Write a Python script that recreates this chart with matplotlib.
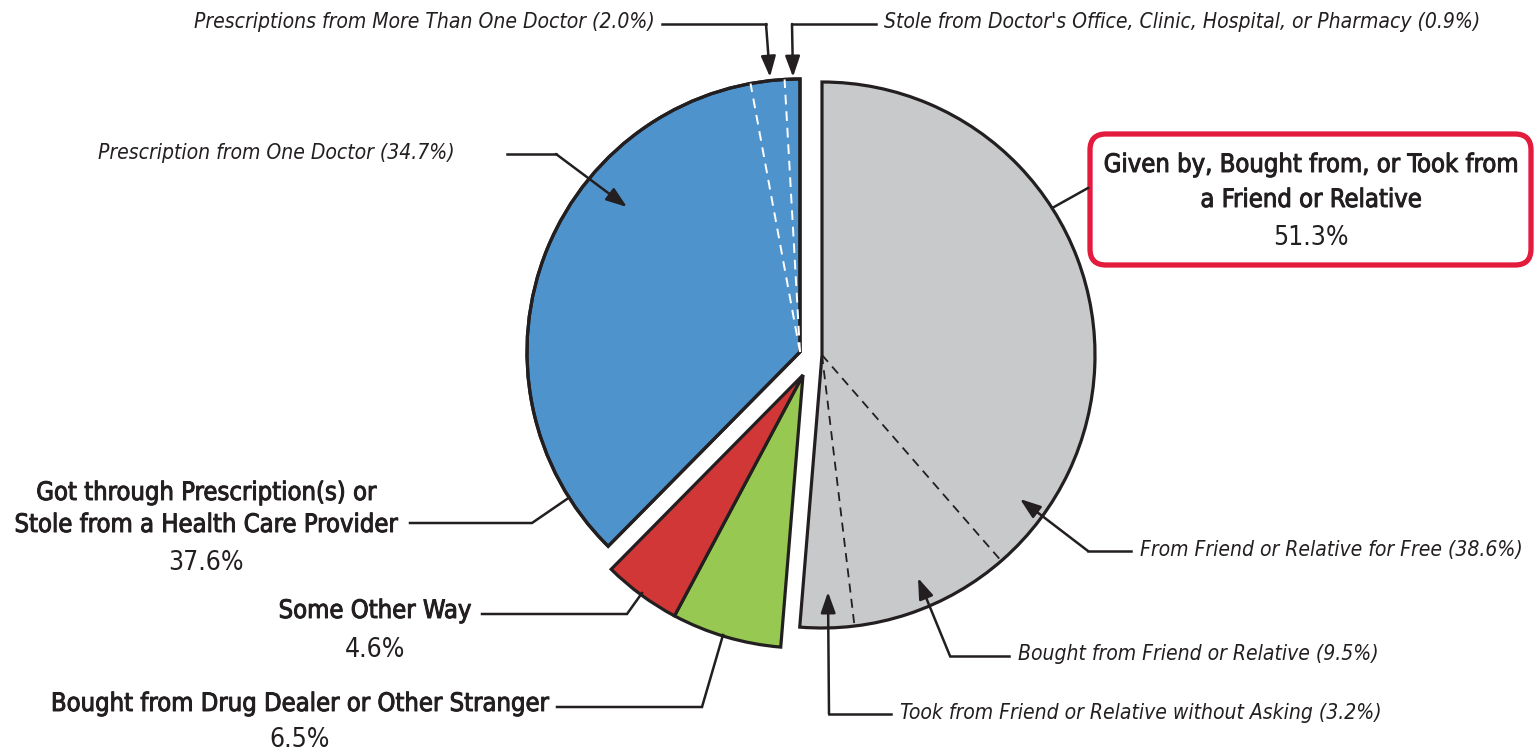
import matplotlib
matplotlib.use("Agg")
import matplotlib.pyplot as plt
import matplotlib.patheffects as pe
from matplotlib.patches import Wedge, FancyBboxPatch
import numpy as np

plt.rcParams['font.family'] = ['DejaVu Sans']
plt.rcParams['font.stretch'] = 'condensed'

# main groups, clockwise from 12 o'clock
groups = ["Given by, Bought from, or Took from a Friend or Relative",
          "Bought from Drug Dealer or Other Stranger",
          "Some Other Way",
          "Got through Prescription(s) or Stole from a Health Care Provider"]
group_pct = [51.3, 6.5, 4.6, 37.6]
group_colors = ["#c8c9cb", "#97c851", "#d13737", "#4f93cd"]

# sub-slices inside the friend/relative group (clockwise)
friend_sub = ["From Friend or Relative for Free", "Bought from Friend or Relative",
              "Took from Friend or Relative without Asking"]
friend_pct = [38.6, 9.5, 3.2]

# sub-slices inside the prescription group (counter-clockwise from top)
rx_sub = ["Stole from Doctor's Office, Clinic, Hospital, or Pharmacy",
          "Prescriptions from More Than One Doctor", "Prescription from One Doctor"]
rx_pct = [0.9, 2.0, 34.7]

INK = "#231f20"
W, H = 1536, 754
R = 273
centers = [(822, 355), (803, 375), (803, 375), (800, 352)]

fig = plt.figure(figsize=(W / 100, H / 100), dpi=100)
ax = fig.add_axes([0, 0, 1, 1])
ax.set_xlim(0, W)
ax.set_ylim(H, 0)
ax.set_aspect("equal")
ax.axis("off")


def pt(c, a, r=R):
    # visual angle a (deg, ccw from 3 o'clock) -> pixel coords
    return c[0] + r * np.cos(np.radians(a)), c[1] - r * np.sin(np.radians(a))


# wedges (y axis inverted, so data angle = -visual angle)
bounds = 90 - 3.6 * np.concatenate([[0], np.cumsum(group_pct)])
for i, pct in enumerate(group_pct):
    a1, a2 = bounds[i], bounds[i + 1]
    ax.add_patch(Wedge(centers[i], R, -a1, -a2, facecolor=group_colors[i],
                       edgecolor=INK, lw=2.3, joinstyle="miter"))

# dashed dividers in the gray group
for a in (90 - 3.6 * np.cumsum(friend_pct))[:-1]:
    x, y = pt(centers[0], a)
    ax.plot([centers[0][0], x], [centers[0][1], y], color=INK, lw=1.3,
            dashes=(5, 3.5))
# dashed dividers in the blue group
for a in (90 + 3.6 * np.cumsum(rx_pct))[:-1]:
    x, y = pt(centers[3], a)
    ax.plot([centers[3][0], x], [centers[3][1], y], color="white", lw=1.4,
            dashes=(5, 3.5))
# redraw outline of blue wedge on top of the white dashes
ax.add_patch(Wedge(centers[3], R, -bounds[3], -bounds[4], facecolor="none",
                   edgecolor=INK, lw=2.3))


def leader(pts, arrow=False):
    xs, ys = zip(*pts)
    if arrow:
        ax.plot(xs[:-1], ys[:-1], color=INK, lw=1.8, solid_joinstyle="miter")
        ax.annotate("", xy=pts[-1], xytext=pts[-2],
                    arrowprops=dict(arrowstyle="-|>,head_length=0.9,head_width=0.32",
                                    mutation_scale=14, color=INK, lw=1.8,
                                    shrinkA=0, shrinkB=0))
    else:
        ax.plot(xs, ys, color=INK, lw=1.8, solid_joinstyle="miter")


ital = dict(fontsize=15.1, style="italic", color=INK, va="center")
bold = dict(fontsize=18.3, color=INK, va="center", ha="center",
            path_effects=[pe.withStroke(linewidth=0.7, foreground=INK)])
pctk = dict(fontsize=19, color=INK, va="center", ha="center")

# top labels (blue sub-slices)
ax.text(655, 22, f"{rx_sub[1]} ({rx_pct[1]:.1f}%)", ha="right", **ital)
leader([(662, 24), (766, 24), (770, 77)], arrow=True)
ax.text(884, 22, f"{rx_sub[0]} ({rx_pct[0]:.1f}%)", ha="left", **ital)
leader([(876, 24), (792, 24), (793, 77)], arrow=True)
ax.text(455, 153, f"{rx_sub[2]} ({rx_pct[2]:.1f}%)", ha="right", **ital)
leader([(507, 154), (556, 154), (627, 207)], arrow=True)

# gray sub-slice labels
ax.text(1140, 550, f"{friend_sub[0]} ({friend_pct[0]:.1f}%)", ha="left", **ital)
leader([(1131, 551), (1088, 551), (1020, 499)], arrow=True)
ax.text(1018, 654, f"{friend_sub[1]} ({friend_pct[1]:.1f}%)", ha="left", **ital)
leader([(1009, 656), (950, 656), (918, 578)], arrow=True)
ax.text(900, 713, f"{friend_sub[2]} ({friend_pct[2]:.1f}%)", ha="left", **ital)
leader([(891, 714), (829, 714), (828, 592)], arrow=True)

# highlighted box for the friend/relative group
ax.add_patch(FancyBboxPatch((1090, 134), 441, 131,
                            boxstyle="round,pad=0,rounding_size=16",
                            facecolor="white", edgecolor="#e31b3c", lw=3.8))
ax.text(1311, 165, "Given by, Bought from, or Took from", **bold)
ax.text(1311, 200, "a Friend or Relative", **bold)
ax.text(1311, 238, f"{group_pct[0]:.1f}%", **pctk)
leader([(1054, 207), (1088, 188)])

# left group labels
ax.text(206, 493, "Got through Prescription(s) or", **bold)
ax.text(206, 525, "Stole from a Health Care Provider", **bold)
ax.text(206, 563, f"{group_pct[3]:.1f}%", **pctk)
leader([(410, 523), (532, 523), (567, 499)])

ax.text(375, 611, groups[2], **bold)
ax.text(375, 650, f"{group_pct[2]:.1f}%", **pctk)
leader([(482, 614), (627, 614), (642, 593)])

ax.text(300, 704, groups[1], **bold)
ax.text(300, 740, f"{group_pct[1]:.1f}%", **pctk)
leader([(557, 707), (702, 707), (723, 635)])

fig.savefig("out.png", dpi=100, facecolor="white")
